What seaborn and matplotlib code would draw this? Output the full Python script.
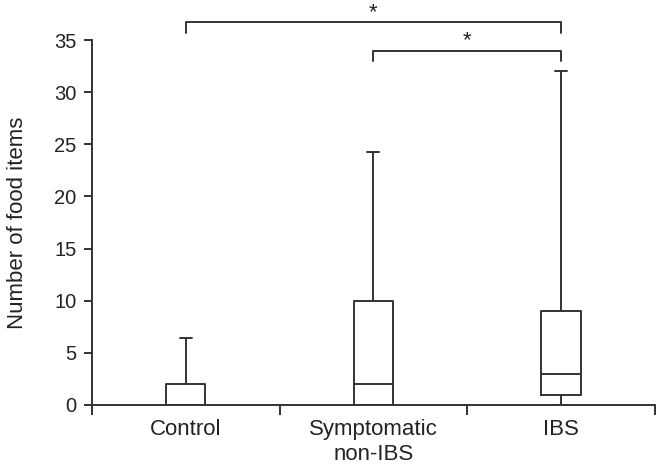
import matplotlib
matplotlib.use("Agg")
import matplotlib.pyplot as plt
import seaborn as sns

groups = ["Control", "Symptomatic\nnon-IBS", "IBS"]
whislo = [0, 0, 0]
q1 = [0, 0, 1]
med = [0, 2, 3]
q3 = [2, 10, 9]
whishi = [6.4, 24.3, 32]
y_ticks = [0, 5, 10, 15, 20, 25, 30, 35]
# significance pairs (group index a, group index b, bracket height)
sig_pairs = [(0, 2, 36.7), (1, 2, 34.0)]

sns.set_style("ticks")
plt.rcParams['font.family'] = ['Liberation Sans', 'DejaVu Sans']
line_c = "#333333"
text_c = "#222222"

fig, ax = plt.subplots(figsize=(6.62, 4.72), dpi=100)
fig.subplots_adjust(left=0.139, right=0.989, bottom=0.142, top=0.915)

stats = []
for i, g in enumerate(groups):
    stats.append(dict(label=g, whislo=whislo[i], q1=q1[i], med=med[i],
                      q3=q3[i], whishi=whishi[i], fliers=[]))

lp = dict(color=line_c, linewidth=1.4)
ax.bxp(stats, positions=range(len(groups)), widths=0.21, capwidths=0.065,
       showfliers=False, patch_artist=False,
       boxprops=lp, whiskerprops=lp, capprops=lp, medianprops=lp)

ax.set_xlim(-0.5, len(groups) - 0.5)
ax.set_ylim(0, 35)
ax.set_yticks(y_ticks)
ax.set_yticklabels([str(v) for v in y_ticks], fontsize=14.5)
ax.set_xticks([i - 0.5 for i in range(len(groups) + 1)])
ax.set_xticklabels([])
ax.set_xticks(range(len(groups)), minor=True)
ax.set_xticklabels(groups, minor=True, fontsize=16, color=text_c,
                   linespacing=1.25)
ax.tick_params(axis="x", which="minor", length=0, pad=10)
ax.tick_params(axis="x", which="major", length=7, width=1.4, color=line_c)
ax.tick_params(axis="y", length=6, width=1.4, color=line_c,
               labelcolor=text_c, pad=5)
ax.set_ylabel("Number of food items", fontsize=16, color=text_c, labelpad=19)

sns.despine(ax=ax)
for s in ["left", "bottom"]:
    ax.spines[s].set_color(line_c)
    ax.spines[s].set_linewidth(1.4)

for a, b, h in sig_pairs:
    ax.plot([a, a, b, b], [h - 1.0, h, h, h - 1.0], color=line_c, lw=1.4,
            clip_on=False)
    ax.text((a + b) / 2, h - 0.1, "*", ha="center", va="bottom",
            fontsize=16, color=text_c)

fig.savefig("out.png", dpi=100)
